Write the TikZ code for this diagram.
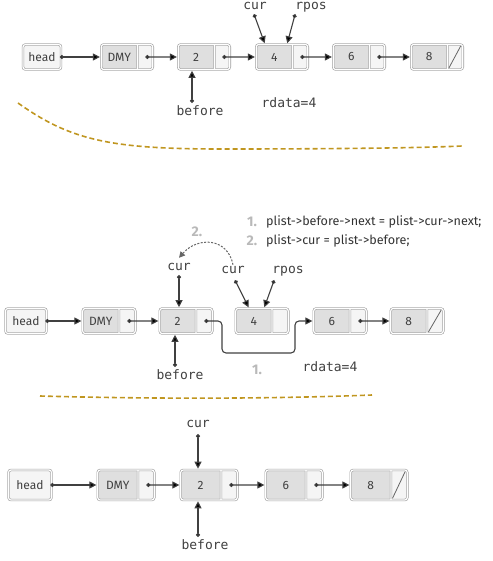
\documentclass[tikz,border=0pt]{standalone}
\usepackage{fontspec}
\setmainfont{Fira Sans}
\newfontfamily\monofont{DejaVu Sans Mono}
\usetikzlibrary{arrows.meta,shapes.multipart,calc}

% data part and pointer part of a list cell
\newcommand\celltext[3]{\makebox[#1pt]{#3}\nodepart{two}\makebox[#2pt]{}}

\begin{document}
\begin{tikzpicture}[x=1pt,y=-1pt,
  cell/.style={draw=gray!75, double=white, double distance=1.2pt, line width=0.6pt,
    rounded corners=2.5pt, inner sep=0pt, text=black!75,
    font=\fontsize{12}{13}\selectfont},
  headcell/.style={cell, fill=gray!8},
  listcell/.style={cell, rectangle split, rectangle split horizontal,
    rectangle split parts=2, rectangle split part fill={gray!25,gray!8}},
  varname/.style={font=\monofont\fontsize{13}{14}\selectfont, text=black!75,
    inner sep=1pt, text height=0.76em, text depth=0.24em},
  codeline/.style={font=\fontsize{12.6}{13}\selectfont, text=black!80, inner sep=0pt, anchor=west},
  stepnum/.style={font=\bfseries\fontsize{14}{15}\selectfont, text=gray!55, inner sep=0pt},
  ptr/.style={draw=black!75, line width=1.1pt, shorten >=1pt,
    {Circle[length=4pt]}-{Triangle[length=7pt,width=7pt]}},
  nullptr/.style={draw=black!60, line width=0.8pt},
  divider/.style={draw=sepgold, line width=1.6pt, dash pattern=on 5pt off 3pt},
]

  % Define colors
  \definecolor{sepgold}{RGB}{192,150,32}

  \useasboundingbox (0,0) rectangle (492,561);

  % ---------- before removal ----------
  \node[headcell, minimum width=38pt, minimum height=25pt] (a0) at (42,57) {head};
  \node[listcell, minimum height=25pt] (a1) at (127,57) {\celltext{36}{15}{DMY}};
  \node[listcell, minimum height=25pt] (a2) at (204,57) {\celltext{36}{15}{2}};
  \node[listcell, minimum height=25pt] (a4) at (282,57) {\celltext{36}{15}{4}};
  \node[listcell, minimum height=25pt] (a6) at (359,57) {\celltext{36}{15}{6}};
  \node[listcell, minimum height=25pt] (a8) at (437,57) {\celltext{36}{15}{8}};

  % ---------- removing ----------
  \node[headcell, minimum width=41pt, minimum height=25pt] (m0) at (26,321) {head};
  \node[listcell, minimum height=25pt] (m1) at (109,321) {\celltext{36}{16}{DMY}};
  \node[listcell, minimum height=25pt] (m2) at (186,321) {\celltext{36}{16}{2}};
  \node[listcell, minimum height=25pt] (m4) at (262,321) {\celltext{36}{16}{4}};
  \node[listcell, minimum height=25pt] (m6) at (340,321) {\celltext{36}{16}{6}};
  \node[listcell, minimum height=25pt] (m8) at (417,321) {\celltext{36}{16}{8}};

  % ---------- after removal ----------
  \node[headcell, minimum width=43pt, minimum height=30pt] (b0) at (30,485) {head};
  \node[listcell, minimum height=30pt] (b1) at (126,485) {\celltext{40}{16}{DMY}};
  \node[listcell, minimum height=30pt] (b2) at (209,485) {\celltext{40}{16}{2}};
  \node[listcell, minimum height=30pt] (b6) at (294,485) {\celltext{40}{16}{6}};
  \node[listcell, minimum height=30pt] (b8) at (379,485) {\celltext{40}{16}{8}};

  % pointer dots in the second parts
  \foreach \n in {a1,a2,a4,a6,m1,m2,m6,b1,b2,b6}
    \coordinate (\n p) at ($(\n.one split north)!.5!(\n.south east)$);

  % links
  \draw[ptr] ([xshift=-1.5pt]a0.east) -- (a1);
  \draw[ptr] (a1p) -- (a2);
  \draw[ptr] (a2p) -- (a4);
  \draw[ptr] (a4p) -- (a6);
  \draw[ptr] (a6p) -- (a8);

  \draw[ptr] ([xshift=-1.5pt]m0.east) -- (m1);
  \draw[ptr] (m1p) -- (m2);
  \draw[ptr] (m6p) -- (m8);
  \coordinate (bend1) at (222,353);
  \coordinate (bend2) at (295,353);
  \draw[ptr, rounded corners=4pt] (m2p) -| (bend1) -- (bend2) |- (m6);

  \draw[ptr] ([xshift=-1.5pt]b0.east) -- (b1);
  \draw[ptr] (b1p) -- (b2);
  \draw[ptr] (b2p) -- (b6);
  \draw[ptr] (b6p) -- (b8);

  % null pointers
  \foreach \n in {a8,m8,b8}
    \draw[nullptr] ([xshift=1.5pt,yshift=2pt]\n.one split south)
      -- ([xshift=-2.5pt,yshift=-2pt]\n.north east);

  % variables, top
  \node[varname] (cura) at (255,7) {cur};
  \node[varname] (rposa) at (311,7) {rpos};
  \node[varname] (beforea) at (200,113) {before};
  \node[varname] (rdataa) at (289,105) {rdata=4};
  \draw[ptr] ([xshift=-1pt,yshift=-1pt]cura.south) -- ([xshift=-17pt]a4.north);
  \draw[ptr] ([xshift=1pt,yshift=-1pt]rposa.south west) -- ([xshift=5pt]a4.north);
  \draw[ptr] ([xshift=-8pt,yshift=4pt]beforea.north) -- ([xshift=-12pt]a2.south);

  % variables, middle
  \node[varname] (curm1) at (179,268) {cur};
  \node[varname] (curm2) at (233,271) {cur};
  \node[varname] (rposm) at (288,271) {rpos};
  \node[varname] (beforem) at (180,377) {before};
  \node[varname] (rdatam) at (330,369) {rdata=4};
  \draw[ptr] ([yshift=-1pt]curm1.south) -- ([xshift=-7pt]m2.north);
  \draw[ptr] ([xshift=2pt,yshift=-3pt]curm2.south) -- ([xshift=-13pt]m4.north);
  \draw[ptr] ([xshift=3pt,yshift=-3pt]rposm.south west) -- ([xshift=2pt]m4.north);
  \draw[ptr] ([xshift=-5pt,yshift=4pt]beforem.north) -- ([xshift=-11pt]m2.south);

  % steps
  \node[stepnum] (num1a) at (252,222) {1.};
  \node[codeline] (code1) at (266,222) {plist->before->next = plist->cur->next;};
  \node[stepnum] (num2a) at (252,241) {2.};
  \node[codeline] (code2) at (266,241) {plist->cur = plist->before;};
  \node[stepnum] (num1b) at (257,370) {1.};
  \node[stepnum] (num2b) at (197,232) {2.};
  \draw[draw=black!60, line width=1pt, dash pattern=on 2pt off 1.5pt,
    -{Triangle[length=6pt,width=6pt]}]
    (curm2.north) .. controls (228,238) and (198,236) .. ([yshift=4pt]curm1.north);

  % variables, bottom
  \node[varname] (curb) at (198,425) {cur};
  \node[varname] (beforeb) at (205,547) {before};
  \draw[ptr] ([yshift=-3pt]curb.south) -- ([xshift=-11pt]b2.north);
  \draw[ptr] ([xshift=-7pt,yshift=4pt]beforeb.north) -- ([xshift=-11pt]b2.south);

  % section dividers
  \draw[divider] (18,103) .. controls (70,140) and (110,149) .. (220,149)
    .. controls (330,149) and (420,148) .. (462,146);
  \draw[divider] (40,396) .. controls (150,399) and (270,399) .. (372,395);

\end{tikzpicture}
\end{document}
